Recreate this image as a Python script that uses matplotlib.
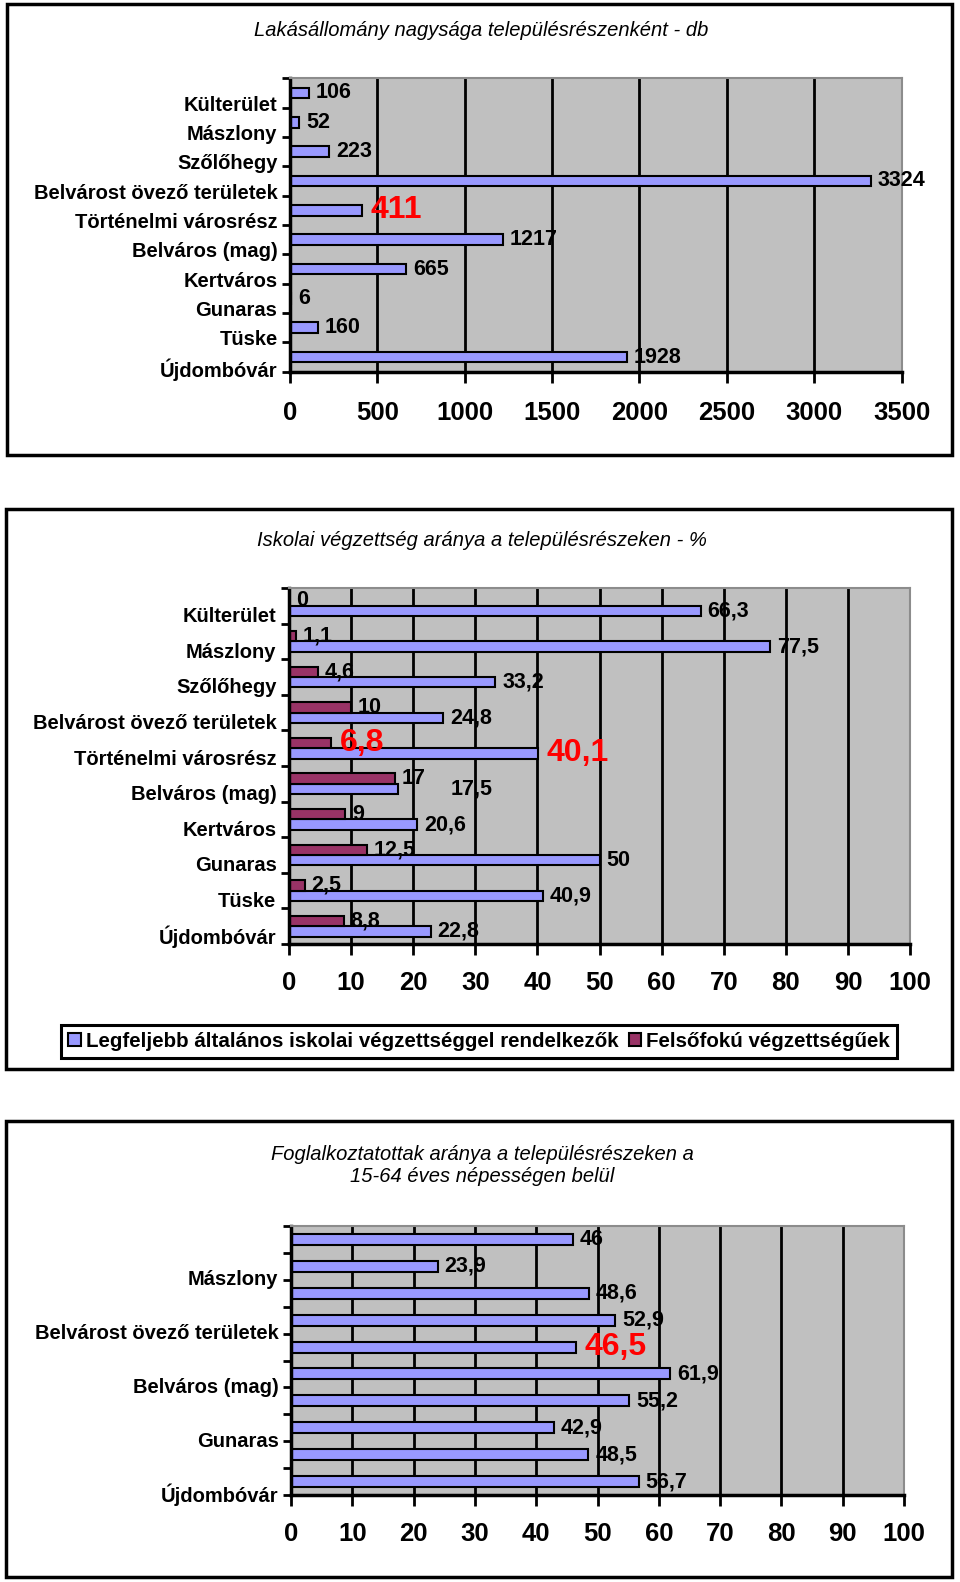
import numpy as np
import matplotlib
matplotlib.use('Agg')
import matplotlib.pyplot as plt
from matplotlib.patches import Rectangle, Patch

plt.rcParams['font.family'] = ['Liberation Sans', 'DejaVu Sans']

# ---------------- data ----------------
categories = ['Külterület', 'Mászlony', 'Szőlőhegy', 'Belvárost övező területek',
              'Történelmi városrész', 'Belváros (mag)', 'Kertváros', 'Gunaras',
              'Tüske', 'Újdombóvár']
lakas_db = [106, 52, 223, 3324, 411, 1217, 665, 6, 160, 1928]

altalanos_pct = [66.3, 77.5, 33.2, 24.8, 40.1, 17.5, 20.6, 50, 40.9, 22.8]
felsofoku_pct = [0, 1.1, 4.6, 10, 6.8, 17, 9, 12.5, 2.5, 8.8]

foglalkoztatott_pct = [46, 23.9, 48.6, 52.9, 46.5, 61.9, 55.2, 42.9, 48.5, 56.7]

title1 = 'Lakásállomány nagysága településrészenként - db'
title2 = 'Iskolai végzettség aránya a településrészeken - %'
title3 = 'Foglalkoztatottak aránya a településrészeken a\n15-64 éves népességen belül'
legend_labels = ['Legfeljebb általános iskolai végzettséggel rendelkezők',
                 'Felsőfokú végzettségűek']

highlight = 4          # Történelmi városrész
panel3_shown = [1, 3, 5, 7, 9]

# ---------------- styling ----------------
BLUE = '#9999FF'
MAROON = '#993366'
GRAY = '#C0C0C0'
RED = '#FF0000'
W, H = 960, 1582

fig = plt.figure(figsize=(W / 100, H / 100), dpi=100)


def rect(x0, y0, x1, y1):
    return [x0 / W, 1 - y1 / H, (x1 - x0) / W, (y1 - y0) / H]


def frame(x0, y0, x1, y1):
    fig.add_artist(Rectangle((x0 / W, 1 - y1 / H), (x1 - x0) / W, (y1 - y0) / H,
                             transform=fig.transFigure, fill=False,
                             ec='black', lw=2.5))


def fmt(v):
    return f'{v:g}'.replace('.', ',')


def style(ax, n, xmax, xstep, shown, label_off, xpad):
    ax.set_facecolor(GRAY)
    ax.set_xlim(0, xmax)
    ax.set_ylim(n - 0.5, -0.5)
    ax.set_xticks(np.arange(0, xmax + 1, xstep))
    ax.set_xticklabels([str(int(t)) for t in np.arange(0, xmax + 1, xstep)],
                       fontsize=18.5, fontweight='bold')
    ax.tick_params(axis='x', direction='out', length=8, width=2, pad=xpad)
    ax.set_yticks([i + label_off for i in shown])
    ax.set_yticklabels([categories[i] for i in shown], fontsize=14.5,
                       fontweight='bold')
    ax.tick_params(axis='y', which='major', length=0, pad=9)
    ax.set_yticks(np.arange(-0.5, n), minor=True)
    ax.tick_params(axis='y', which='minor', direction='out', length=6, width=2)
    ax.grid(axis='x', color='black', lw=2)
    ax.set_axisbelow(True)
    ax.xaxis.get_gridlines()[-1].set_visible(False)
    for s in ('left', 'bottom'):
        ax.spines[s].set_color('black')
        ax.spines[s].set_linewidth(2.5)
    for s in ('top', 'right'):
        ax.spines[s].set_color('#8C8C8C')
        ax.spines[s].set_linewidth(1.5)


def label(ax, x, y, v, red=False, dx=5):
    if red:
        ax.annotate(fmt(v), xy=(x, y), xytext=(dx + 1, 0), textcoords='offset points',
                    ha='left', va='center', fontsize=23, fontweight='bold',
                    color=RED)
    else:
        ax.annotate(fmt(v), xy=(x, y), xytext=(dx, 0), textcoords='offset points',
                    ha='left', va='center', fontsize=15.5, fontweight='bold',
                    color='black')


ypos = np.arange(len(categories))

# ---------------- panel 1 ----------------
frame(7, 4, 952, 455)
fig.text(481 / W, 1 - 31 / H, title1, ha='center', va='center',
         fontsize=14.5, style='italic')
ax1 = fig.add_axes(rect(290, 78.3, 901.6, 371.7))
ax1.barh(ypos, lakas_db, height=0.37, color=BLUE, edgecolor='black', lw=1.5)
style(ax1, len(categories), 3500, 500, list(range(10)), 0.35, 13)
for i, v in enumerate(lakas_db):
    label(ax1, v, i, v, red=(i == highlight))

# ---------------- panel 2 ----------------
frame(6, 509, 952, 1069)
fig.text(482 / W, 1 - 540 / H, title2, ha='center', va='center',
         fontsize=14.5, style='italic')
ax2 = fig.add_axes(rect(289, 588, 910, 944))
bh = 0.29
ax2.barh(ypos + bh / 2, altalanos_pct, height=bh, color=BLUE,
         edgecolor='black', lw=1.5)
ax2.barh(ypos - bh / 2, felsofoku_pct, height=bh, color=MAROON,
         edgecolor='black', lw=1.5)
style(ax2, len(categories), 100, 10, list(range(10)), 0.25, 11.5)
extra_dx = {5: 33}
for i, v in enumerate(felsofoku_pct):
    label(ax2, v, i - bh / 2, v, red=(i == highlight))
for i, v in enumerate(altalanos_pct):
    label(ax2, v, i + bh / 2, v, red=(i == highlight), dx=5 + extra_dx.get(i, 0))

handles = [Patch(facecolor=BLUE, edgecolor='black', lw=1.5),
           Patch(facecolor=MAROON, edgecolor='black', lw=1.5)]
leg = fig.legend(handles, legend_labels, loc='center',
                 bbox_to_anchor=(479 / W, 1 - 1041.5 / H), ncol=2,
                 frameon=True, fancybox=False, shadow=False,
                 prop=dict(weight='bold', size=14.8),
                 handlelength=0.6, handleheight=0.6, handletextpad=0.25,
                 columnspacing=0.5, borderpad=0.35, borderaxespad=0,
                 framealpha=1)
leg.get_frame().set_linewidth(2.2)
leg.get_frame().set_edgecolor('black')

# ---------------- panel 3 ----------------
frame(6, 1121, 952, 1577)
fig.text(482 / W, 1 - 1165.5 / H, title3, ha='center', va='center',
         fontsize=14.5, style='italic', linespacing=1.25, multialignment='center')
ax3 = fig.add_axes(rect(291, 1226, 904, 1495))
ax3.barh(ypos, foglalkoztatott_pct, height=0.41, color=BLUE,
         edgecolor='black', lw=1.5)
style(ax3, len(categories), 100, 10, panel3_shown, 0.43, 11.5)
for i, v in enumerate(foglalkoztatott_pct):
    label(ax3, v, i, v, red=(i == highlight))

fig.savefig('out.png', dpi=100)
